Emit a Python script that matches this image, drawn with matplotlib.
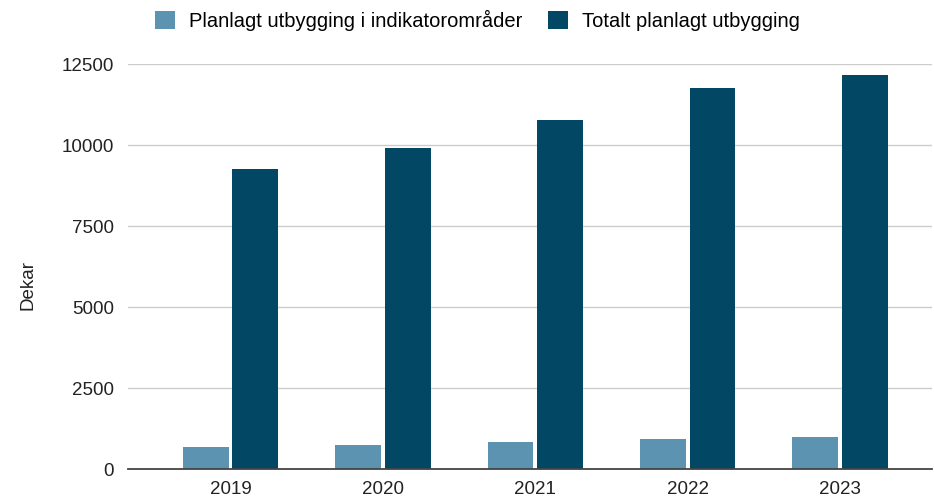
import matplotlib.pyplot as plt
import numpy as np

plt.rcParams['font.family'] = ['Liberation Sans', 'DejaVu Sans']

years = ["2019", "2020", "2021", "2022", "2023"]
indikator = [690, 740, 840, 940, 1000]
totalt = [9250, 9910, 10770, 11750, 12160]
series_names = ["Planlagt utbygging i indikatorområder", "Totalt planlagt utbygging"]
yticks = [0, 2500, 5000, 7500, 10000, 12500]

light = "#5b93b0"
dark = "#024763"

fig = plt.figure(figsize=(9.34, 5.04), dpi=100)
ax = fig.add_axes([0.137, 0.0685, 0.861, 0.8045])

x = np.arange(len(years))
w = 0.30
ax.bar(x - 0.163, indikator, width=w, color=light, zorder=3, label=series_names[0])
ax.bar(x + 0.163, totalt, width=w, color=dark, zorder=3, label=series_names[1])

ax.set_xlim(-0.673, 4.604)
ax.set_ylim(0, 12500)
ax.set_yticks(yticks)
ax.set_yticklabels([str(t) for t in yticks])
ax.set_xticks(x)
ax.set_xticklabels(years)
ax.tick_params(axis='both', length=0, labelsize=13.5, colors='#222222')
ax.tick_params(axis='y', pad=10)
ax.tick_params(axis='x', pad=8)

ax.grid(axis='y', color='#cccccc', linewidth=1, zorder=0)
for s in ['top', 'right', 'left']:
    ax.spines[s].set_visible(False)
ax.spines['bottom'].set_color('#444444')
ax.spines['bottom'].set_linewidth(1.3)
ax.spines['bottom'].set_zorder(4)

fig.text(0.03, 0.435, "Dekar", rotation=90, ha='center', va='center', fontsize=13.5, color='#222222')

leg = fig.legend(loc='center', bbox_to_anchor=(0.511, 0.96), ncol=2, frameon=False,
                 fontsize=14.5, handlelength=1.0, handleheight=1.0, handletextpad=0.7,
                 columnspacing=1.25)

fig.savefig("out.png", dpi=100)
